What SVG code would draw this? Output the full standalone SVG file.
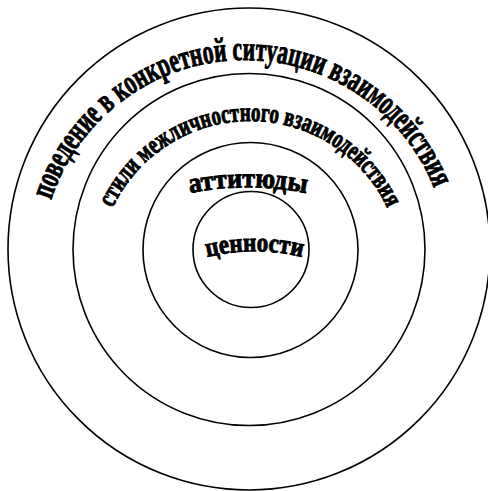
<svg xmlns="http://www.w3.org/2000/svg" width="488" height="491" viewBox="0 0 488 491">
  <style>
    .ring { fill: none; stroke: #000; stroke-width: 1.6; }
    .lbl { font-family: "Liberation Serif", "Times New Roman", serif; font-weight: bold; fill: #000; stroke: #000; stroke-width: 1; stroke-linejoin: round; }
  </style>
  <defs>
    <path id="arc1" d="M 51 200 A 204 204 0 0 1 434 188"/>
    <path id="arc2" d="M 112.6 208 A 152 152 0 0 1 387.4 208"/>
    <path id="arc3" d="M 190 193 A 300 300 0 0 1 306 193"/>
    <path id="arc4" d="M 207 257 A 200 200 0 0 1 302 257"/>
  </defs>
  <rect width="488" height="491" fill="#fff"/>
  <g id="connectors"></g>
  <g id="ring-behaviour">
    <circle class="ring" cx="249" cy="249" r="241"/>
    <text class="lbl" font-size="34"><textPath href="#arc1" textLength="498" lengthAdjust="spacingAndGlyphs">поведение в конкретной ситуации взаимодействия</textPath></text>
  </g>
  <g id="ring-styles">
    <circle class="ring" cx="249" cy="249.5" r="176"/>
    <text class="lbl" font-size="27"><textPath href="#arc2" textLength="343" lengthAdjust="spacingAndGlyphs">стили межличностного взаимодействия</textPath></text>
  </g>
  <g id="ring-attitudes">
    <circle class="ring" cx="250.5" cy="250" r="107.5"/>
    <text class="lbl" font-size="28"><textPath href="#arc3" textLength="117" lengthAdjust="spacingAndGlyphs">аттитюды</textPath></text>
  </g>
  <g id="ring-values">
    <circle class="ring" cx="251" cy="249.5" r="58"/>
    <text class="lbl" font-size="27"><textPath href="#arc4" textLength="96" lengthAdjust="spacingAndGlyphs">ценности</textPath></text>
  </g>
</svg>
